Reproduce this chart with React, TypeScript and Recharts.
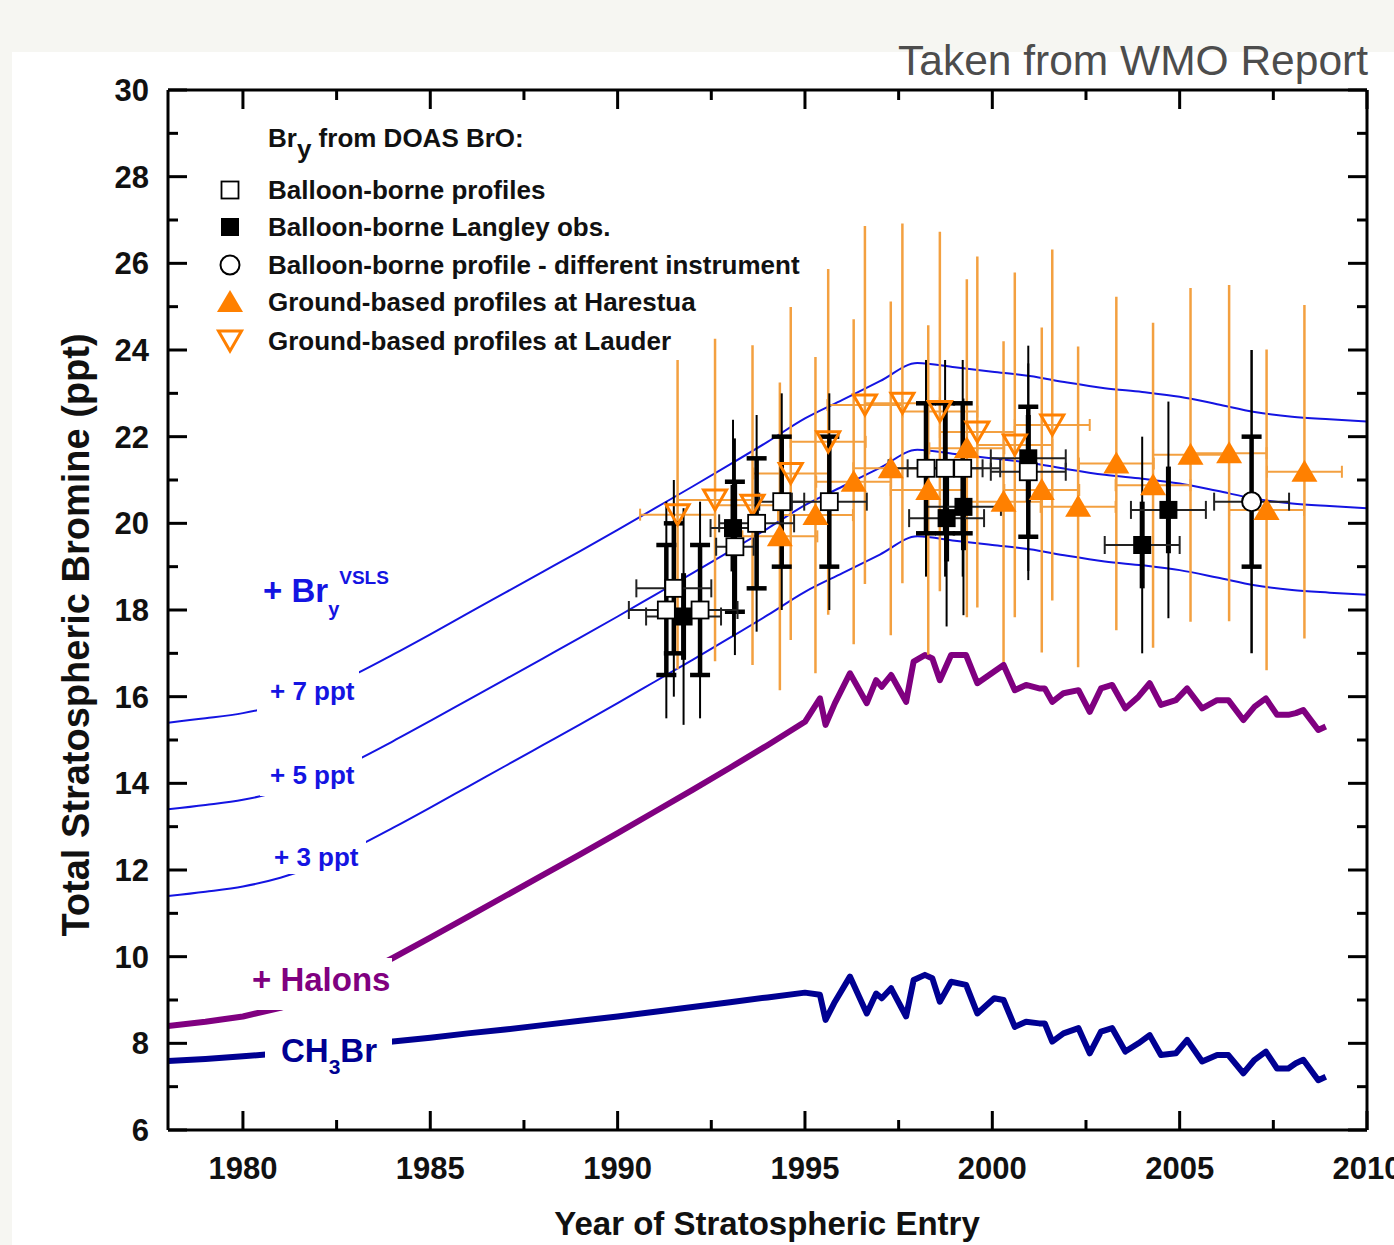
import React from 'react';
import { ComposedChart, Line, Scatter, XAxis, YAxis, ErrorBar } from 'recharts';

const FONT = '"Liberation Sans", Arial, Helvetica, sans-serif';

// axis ticks (majors get a label)
const xTicks = [1980, 1982.5, 1985, 1987.5, 1990, 1992.5, 1995, 1997.5, 2000, 2002.5, 2005, 2007.5, 2010];
const yTicks = [6, 7, 8, 9, 10, 11, 12, 13, 14, 15, 16, 17, 18, 19, 20, 21, 22, 23, 24, 25, 26, 27, 28, 29, 30];

// smooth Bry curves incl. VSLS contribution
const smoothYears = [1978, 1979, 1980, 1981, 1982, 1983, 1984, 1985, 1986, 1987, 1988, 1989, 1990, 1991, 1992, 1993, 1994,
  1995, 1996, 1997, 1998, 1999, 2000, 2001, 2002, 2003, 2004, 2005, 2006, 2007, 2008, 2009, 2010];
const plus3 = [11.4, 11.5, 11.62, 11.82, 12.12, 12.52, 12.97, 13.44, 13.92, 14.4, 14.88, 15.36, 15.85, 16.35, 16.85, 17.36, 17.88,
  18.42, 18.85, 19.28, 19.7, 19.6, 19.5, 19.4, 19.25, 19.12, 19.03, 18.92, 18.75, 18.57, 18.46, 18.4, 18.35];
const plus5 = [13.4, 13.5, 13.62, 13.82, 14.12, 14.52, 14.97, 15.44, 15.92, 16.4, 16.88, 17.36, 17.85, 18.35, 18.85, 19.36, 19.88,
  20.42, 20.85, 21.28, 21.7, 21.6, 21.5, 21.4, 21.25, 21.12, 21.03, 20.92, 20.75, 20.57, 20.46, 20.4, 20.35];
const plus7 = [15.4, 15.5, 15.62, 15.82, 16.12, 16.52, 16.97, 17.44, 17.92, 18.4, 18.88, 19.36, 19.85, 20.35, 20.85, 21.36, 21.88,
  22.42, 22.85, 23.28, 23.7, 23.6, 23.5, 23.4, 23.25, 23.12, 23.03, 22.92, 22.75, 22.57, 22.46, 22.4, 22.35];

// CH3Br and CH3Br + halons
const sourceYears = [1978, 1979, 1980, 1981, 1982, 1983, 1984, 1985, 1986, 1987, 1988, 1989, 1990, 1991, 1992, 1993, 1994,
  1995.0, 1995.4, 1995.55, 1995.8, 1996.2, 1996.65, 1996.9, 1997.05, 1997.3, 1997.7, 1997.9, 1998.2, 1998.4, 1998.6, 1998.9,
  1999.3, 1999.6, 2000.05, 2000.3, 2000.6, 2000.9, 2001.25, 2001.4, 2001.6, 2001.9, 2002.3, 2002.6, 2002.9, 2003.2, 2003.55,
  2003.9, 2004.2, 2004.5, 2004.9, 2005.2, 2005.6, 2006.0, 2006.3, 2006.7, 2007.0, 2007.3, 2007.6, 2007.9, 2008.1, 2008.3,
  2008.7, 2008.9];
const ch3br = [7.59, 7.64, 7.7, 7.77, 7.86, 7.95, 8.04, 8.13, 8.23, 8.32, 8.42, 8.52, 8.62, 8.73, 8.84, 8.95, 9.06,
  9.17, 9.12, 8.54, 8.96, 9.54, 8.69, 9.15, 9.04, 9.27, 8.62, 9.46, 9.58, 9.5, 8.96, 9.42,
  9.35, 8.69, 9.04, 9.0, 8.38, 8.5, 8.46, 8.46, 8.04, 8.23, 8.35, 7.77, 8.27, 8.35, 7.81,
  8.0, 8.19, 7.73, 7.77, 8.08, 7.58, 7.73, 7.73, 7.31, 7.62, 7.81, 7.42, 7.42, 7.54, 7.62,
  7.15, 7.23];
const halons = [8.4, 8.5, 8.62, 8.82, 9.12, 9.52, 9.97, 10.44, 10.92, 11.4, 11.88, 12.36, 12.85, 13.35, 13.85, 14.36, 14.88,
  15.42, 15.96, 15.35, 15.85, 16.54, 15.85, 16.38, 16.23, 16.5, 15.88, 16.81, 16.96, 16.88, 16.38, 16.96,
  16.96, 16.31, 16.58, 16.73, 16.15, 16.27, 16.19, 16.19, 15.88, 16.08, 16.15, 15.65, 16.19, 16.27, 15.73,
  16.0, 16.31, 15.81, 15.92, 16.19, 15.73, 15.92, 15.92, 15.46, 15.77, 15.96, 15.58, 15.58, 15.62, 15.69,
  15.23, 15.31];

// Bry from DOAS BrO
const harestuaYears = [1994.33, 1995.28, 1996.3, 1997.29, 1998.29, 1999.32, 2000.3, 2001.32, 2002.29, 2003.31, 2004.29, 2005.29, 2006.32, 2007.32, 2008.33];
const harestuaValues = [19.7, 20.19, 20.96, 21.27, 20.77, 21.73, 20.5, 20.77, 20.38, 21.38, 20.88, 21.58, 21.62, 20.31, 21.19];
const harestuaErr = [3.55, 3.65, 3.75, 3.85, 3.8, 3.9, 3.7, 3.75, 3.7, 3.85, 3.75, 3.85, 3.88, 3.7, 3.85];
const harestuaXErr = [1, 1, 1, 1, 1, 1, 1, 1, 1, 1, 1, 1, 1, 1, 1];

const lauderYears = [1991.6, 1992.6, 1993.6, 1994.62, 1995.62, 1996.6, 1997.6, 1998.6, 1999.6, 2000.6, 2001.6];
const lauderValues = [20.2, 20.54, 20.42, 21.15, 21.88, 22.73, 22.77, 22.58, 22.11, 21.81, 22.27];
const lauderErr = [3.57, 3.72, 3.69, 3.84, 3.99, 4.13, 4.15, 4.15, 4.05, 3.98, 4.05];
const lauderXErr = [1, 1, 1, 1, 1, 1, 1, 1, 1, 1, 1];

const profileYears = [1991.3, 1991.5, 1992.2, 1993.13, 1993.71, 1994.38, 1995.65, 1998.23, 1998.74, 1999.21, 2000.96];
const profileValues = [18.0, 18.5, 18.0, 19.46, 20.0, 20.5, 20.5, 21.27, 21.27, 21.27, 21.19];
const profileErr = [1.5, 1.5, 1.5, 1.5, 1.5, 1.5, 1.5, 1.5, 1.5, 1.5, 1.5];
const profileErrOuter = [2.5, 2.5, 2.5, 2.5, 2.5, 2.5, 2.5, 2.5, 2.5, 2.5, 2.5];
const profileXErr = [1, 1, 1, 0.5, 1, 0.6, 1, 1, 1, 1, 1];

const langleyYears = [1991.76, 1993.08, 1998.78, 1999.23, 2000.96, 2004.0, 2004.7];
const langleyValues = [17.85, 19.89, 20.12, 20.38, 21.5, 19.5, 20.31];
const langleyErr = [1.0, 1.0, 1.0, 1.0, 1.0, 1.0, 1.0];
const langleyErrOuter = [2.5, 2.5, 2.5, 2.5, 2.6, 2.5, 2.5];
const langleyXErr = [1, 0.6, 1, 1, 1, 1, 1];

const otherYears = [2006.92];
const otherValues = [20.5];
const otherErr = [1.5];
const otherErrOuter = [3.5];
const otherXErr = [1];

const toLine = (xs: number[], ys: number[]) => xs.map((year, i) => ({ year, value: ys[i] }));
const toPoints = (xs: number[], ys: number[], err: number[], xErr: number[], outer?: number[]) =>
  xs.map((year, i) => ({ year, value: ys[i], err: err[i], xErr: xErr[i], outer: outer ? outer[i] : 0 }));

const ORANGE = '#ff8000';
const ORANGE_BAR = '#f3a040';
const BLUE = '#1414e2';
const PURPLE = '#800080';
const NAVY = '#000092';

const OpenSquare = ({ cx, cy }: any) => (
  <rect x={cx - 8.5} y={cy - 8.5} width={17} height={17} fill="#fff" stroke="#000" strokeWidth={1.8} />
);
const FilledSquare = ({ cx, cy }: any) => <rect x={cx - 9} y={cy - 9} width={18} height={18} fill="#000" />;
const OpenCircle = ({ cx, cy }: any) => <circle cx={cx} cy={cy} r={9.5} fill="#fff" stroke="#000" strokeWidth={2} />;
const UpTriangle = ({ cx, cy }: any) => (
  <polygon points={`${cx},${cy - 12} ${cx + 13},${cy + 10} ${cx - 13},${cy + 10}`} fill={ORANGE} />
);
const DownTriangle = ({ cx, cy }: any) => (
  <polygon points={`${cx - 11.5},${cy - 10} ${cx + 11.5},${cy - 10} ${cx},${cy + 10}`} fill="none" stroke={ORANGE} strokeWidth={3} />
);

const MAJOR = 19;
const MINOR = 10;
const tickText = { fontSize: 31, fontWeight: 700, fontFamily: FONT, fill: '#111' } as const;

function BottomTick({ x, y, payload }: any) {
  const major = payload.value % 5 === 0;
  return (
    <g>
      <line x1={x} y1={y} x2={x} y2={y - (major ? MAJOR : MINOR)} stroke="#000" strokeWidth={3} />
      {major && <text x={x} y={y + 49} textAnchor="middle" {...tickText}>{payload.value}</text>}
    </g>
  );
}
function TopTick({ x, y, payload }: any) {
  const major = payload.value % 5 === 0;
  return <line x1={x} y1={y} x2={x} y2={y + (major ? MAJOR : MINOR)} stroke="#000" strokeWidth={3} />;
}
function LeftTick({ x, y, payload }: any) {
  const major = payload.value % 2 === 0;
  return (
    <g>
      <line x1={x} y1={y} x2={x + (major ? MAJOR : MINOR)} y2={y} stroke="#000" strokeWidth={3} />
      {major && <text x={x - 19} y={y + 11} textAnchor="end" {...tickText}>{payload.value}</text>}
    </g>
  );
}
function RightTick({ x, y, payload }: any) {
  const major = payload.value % 2 === 0;
  return <line x1={x} y1={y} x2={x - (major ? MAJOR : MINOR)} y2={y} stroke="#000" strokeWidth={3} />;
}

// white box that cuts the curve behind a label
const Mask = ({ l, t, w, h }: any) => (
  <div style={{ position: 'absolute', left: l, top: t, width: w, height: h, background: '#fff' }} />
);
const Tag = ({ l, cy, size, color, children }: any) => (
  <div style={{ position: 'absolute', left: l, top: cy - size * 0.49, fontSize: size, lineHeight: 1, fontWeight: 700, color, whiteSpace: 'nowrap' }}>
    {children}
  </div>
);

const legendItems = [
  { label: 'Balloon-borne profiles', Shape: OpenSquare },
  { label: 'Balloon-borne Langley obs.', Shape: FilledSquare },
  { label: 'Balloon-borne profile - different instrument', Shape: OpenCircle },
  { label: 'Ground-based profiles at Harestua', Shape: UpTriangle },
  { label: 'Ground-based profiles at Lauder', Shape: DownTriangle },
];
const legendRows = [190, 227, 265, 302, 341];

export default function App() {
  return (
    <div style={{ position: 'absolute', left: 0, top: 0, width: 1394, height: 1245, background: '#f6f6f2', overflow: 'hidden', fontFamily: FONT }}>
      <div style={{ position: 'absolute', left: 12, top: 52, right: 0, bottom: 0, background: '#fff' }} />
      <div style={{ position: 'absolute', left: 0, top: 0 }}>
        <ComposedChart width={1394} height={1245} margin={{ top: 0, right: 0, bottom: 0, left: 0 }}>
          <XAxis dataKey="year" type="number" domain={[1978, 2010]} ticks={xTicks} interval={0} height={115}
            tickSize={0} tickMargin={0} tickLine={false} axisLine={{ stroke: '#000', strokeWidth: 3 }} tick={BottomTick} allowDataOverflow />
          <XAxis xAxisId="top" orientation="top" dataKey="year" type="number" domain={[1978, 2010]} ticks={xTicks} interval={0} height={90}
            tickSize={0} tickMargin={0} tickLine={false} axisLine={{ stroke: '#000', strokeWidth: 3 }} tick={TopTick} allowDataOverflow />
          <YAxis type="number" domain={[6, 30]} ticks={yTicks} interval={0} width={168}
            tickSize={0} tickMargin={0} tickLine={false} axisLine={{ stroke: '#000', strokeWidth: 3 }} tick={LeftTick} allowDataOverflow />
          <YAxis yAxisId="right" orientation="right" type="number" domain={[6, 30]} ticks={yTicks} interval={0} width={27}
            tickSize={0} tickMargin={0} tickLine={false} axisLine={{ stroke: '#000', strokeWidth: 3 }} tick={RightTick} allowDataOverflow />

          <Line data={toLine(smoothYears, plus7)} dataKey="value" type="monotone" stroke={BLUE} strokeWidth={2} dot={false} isAnimationActive={false} />
          <Line data={toLine(smoothYears, plus5)} dataKey="value" type="monotone" stroke={BLUE} strokeWidth={2} dot={false} isAnimationActive={false} />
          <Line data={toLine(smoothYears, plus3)} dataKey="value" type="monotone" stroke={BLUE} strokeWidth={2} dot={false} isAnimationActive={false} />
          <Line data={toLine(sourceYears, halons)} dataKey="value" type="linear" stroke={PURPLE} strokeWidth={6} strokeLinejoin="round" dot={false} isAnimationActive={false} />
          <Line data={toLine(sourceYears, ch3br)} dataKey="value" type="linear" stroke={NAVY} strokeWidth={6} strokeLinejoin="round" dot={false} isAnimationActive={false} />

          <Scatter data={toPoints(lauderYears, lauderValues, lauderErr, lauderXErr)} dataKey="value" shape={DownTriangle} isAnimationActive={false}>
            <ErrorBar dataKey="err" direction="y" width={0} stroke={ORANGE_BAR} strokeWidth={2.5} isAnimationActive={false} />
            <ErrorBar dataKey="xErr" direction="x" width={6} stroke={ORANGE_BAR} strokeWidth={2} isAnimationActive={false} />
          </Scatter>
          <Scatter data={toPoints(harestuaYears, harestuaValues, harestuaErr, harestuaXErr)} dataKey="value" shape={UpTriangle} isAnimationActive={false}>
            <ErrorBar dataKey="err" direction="y" width={0} stroke={ORANGE_BAR} strokeWidth={2.5} isAnimationActive={false} />
            <ErrorBar dataKey="xErr" direction="x" width={6} stroke={ORANGE_BAR} strokeWidth={2} isAnimationActive={false} />
          </Scatter>
          <Scatter data={toPoints(langleyYears, langleyValues, langleyErr, langleyXErr, langleyErrOuter)} dataKey="value" shape={FilledSquare} isAnimationActive={false}>
            <ErrorBar dataKey="outer" direction="y" width={0} stroke="#000" strokeWidth={2} isAnimationActive={false} />
            <ErrorBar dataKey="err" direction="y" width={0} stroke="#000" strokeWidth={5} isAnimationActive={false} />
            <ErrorBar dataKey="xErr" direction="x" width={9} stroke="#222" strokeWidth={2} isAnimationActive={false} />
          </Scatter>
          <Scatter data={toPoints(profileYears, profileValues, profileErr, profileXErr, profileErrOuter)} dataKey="value" shape={OpenSquare} isAnimationActive={false}>
            <ErrorBar dataKey="outer" direction="y" width={0} stroke="#000" strokeWidth={2} isAnimationActive={false} />
            <ErrorBar dataKey="err" direction="y" width={10} stroke="#000" strokeWidth={4.5} isAnimationActive={false} />
            <ErrorBar dataKey="xErr" direction="x" width={9} stroke="#222" strokeWidth={2} isAnimationActive={false} />
          </Scatter>
          <Scatter data={toPoints(otherYears, otherValues, otherErr, otherXErr, otherErrOuter)} dataKey="value" shape={OpenCircle} isAnimationActive={false}>
            <ErrorBar dataKey="outer" direction="y" width={0} stroke="#000" strokeWidth={2.5} isAnimationActive={false} />
            <ErrorBar dataKey="err" direction="y" width={10} stroke="#000" strokeWidth={4.5} isAnimationActive={false} />
            <ErrorBar dataKey="xErr" direction="x" width={9} stroke="#222" strokeWidth={2} isAnimationActive={false} />
          </Scatter>
        </ComposedChart>
      </div>

      {/* source note */}
      <div style={{ position: 'absolute', right: 26, top: 40, fontSize: 42.5, lineHeight: 1, color: '#4d4d4d' }}>Taken from WMO Report</div>

      {/* axis titles */}
      <div style={{ position: 'absolute', left: 767, top: 1224, transform: 'translate(-50%, -50%)', fontSize: 33, fontWeight: 700, color: '#111', whiteSpace: 'nowrap' }}>
        Year of Stratospheric Entry
      </div>
      <div style={{ position: 'absolute', left: 76, top: 635, transform: 'translate(-50%, -50%) rotate(-90deg)', fontSize: 38, fontWeight: 700, color: '#111', whiteSpace: 'nowrap' }}>
        Total Stratospheric Bromine (ppt)
      </div>

      {/* curve labels */}
      <Tag l={263} cy={590} size={33} color={BLUE}>
        + Br<span style={{ fontSize: 20, position: 'relative', top: 14 }}>y</span>
        <span style={{ fontSize: 19, position: 'relative', top: -18 }}>VSLS</span>
      </Tag>
      <Mask l={257} t={668} w={102} h={44} />
      <Tag l={270} cy={691} size={26} color={BLUE}>+ 7 ppt</Tag>
      <Mask l={260} t={750} w={102} h={46} />
      <Tag l={270} cy={775} size={26} color={BLUE}>+ 5 ppt</Tag>
      <Mask l={272} t={836} w={94} h={38} />
      <Tag l={274} cy={857} size={26} color={BLUE}>+ 3 ppt</Tag>
      <Mask l={250} t={958} w={142} h={52} />
      <Tag l={252} cy={979} size={33} color={PURPLE}>+ Halons</Tag>
      <Mask l={265} t={1027} w={127} h={48} />
      <Tag l={281} cy={1050} size={33} color={NAVY}>
        CH<span style={{ fontSize: 21, position: 'relative', top: 12 }}>3</span>Br
      </Tag>

      {/* legend */}
      <Tag l={268} cy={138} size={26} color="#111">
        Br<span style={{ fontSize: 26, position: 'relative', top: 11 }}>y</span> from DOAS BrO:
      </Tag>
      {legendItems.map(({ label, Shape }, i) => (
        <React.Fragment key={label}>
          <svg style={{ position: 'absolute', left: 215, top: legendRows[i] - 15 }} width={30} height={30}>
            <Shape cx={15} cy={15} />
          </svg>
          <Tag l={268} cy={legendRows[i]} size={26} color="#111">{label}</Tag>
        </React.Fragment>
      ))}
    </div>
  );
}
